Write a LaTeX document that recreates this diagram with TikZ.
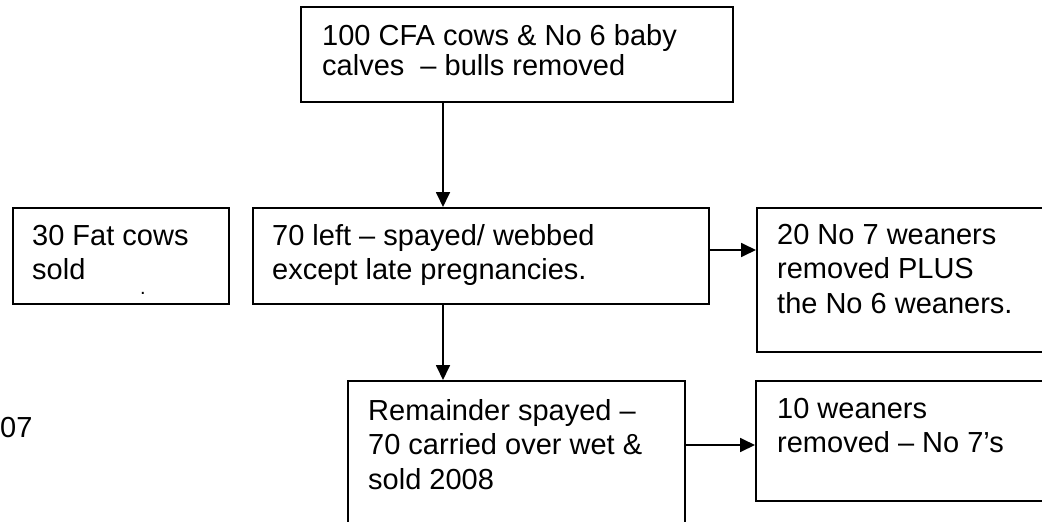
\documentclass[tikz,border=0pt]{standalone}
\usepackage{fontspec}
\setmainfont{Liberation Sans}
\usetikzlibrary{arrows.meta}
\begin{document}
\begin{tikzpicture}[x=1pt,y=-1pt,
  box/.style={draw, line width=1.8pt, inner sep=0pt, anchor=north west},
  txt/.style={anchor=north west, inner sep=0pt, align=left, font=\fontsize{29}{34.5}\selectfont},
  arr/.style={line width=1.8pt, -{Triangle[length=15pt,width=14pt]}}]
\clip (0,0) rectangle (1042,522);
% boxes
\node[box, minimum width=432pt, minimum height=95pt] (top) at (300,6) {};
\node[box, minimum width=216pt, minimum height=96pt] (fat) at (12,207) {};
\node[box, minimum width=456pt, minimum height=96pt] (left70) at (252,207) {};
\node[box, minimum width=320pt, minimum height=144pt] (r20) at (756,207) {};
\node[box, minimum width=337pt, minimum height=170pt] (rem) at (347,380) {};
\node[box, minimum width=320pt, minimum height=120pt] (w10) at (755,380) {};
% texts
\node[txt, font=\fontsize{29}{30}\selectfont] (ttop) at (322,21) {\rule{0pt}{24pt}100 CFA cows \& No 6 baby\\calves~ – bulls removed};
\node[txt] (tfat) at (32,221) {\rule{0pt}{24pt}30 Fat cows\\sold};
\node[font=\fontsize{20}{22}\selectfont, anchor=base, inner sep=0pt] (dot) at (143,294) {.};
\node[txt] (tleft) at (272,221) {\rule{0pt}{24pt}70 left – spayed/ webbed\\except late pregnancies.};
\node[txt] (tr20) at (777,220) {\rule{0pt}{24pt}20 No 7 weaners\\removed PLUS\\the No 6 weaners.};
\node[txt] (trem) at (368,396) {\rule{0pt}{24pt}Remainder spayed –\\70 carried over wet \&\\sold 2008};
\node[txt] (tw10) at (777,394) {\rule{0pt}{24pt}10 weaners\\removed – No 7’s};
\node[font=\fontsize{29}{34}\selectfont, anchor=base west, inner sep=0pt] (t07) at (0,437) {07};
% connectors
\coordinate (vx) at (443,0);
\coordinate (hy1) at (0,250);
\coordinate (hy2) at (0,445);
\draw[arr] (vx |- top.south) -- (vx |- left70.north);
\draw[arr] (vx |- left70.south) -- (vx |- rem.north);
\draw[arr] (left70.east |- hy1) -- (r20.west |- hy1);
\draw[arr] (rem.east |- hy2) -- (w10.west |- hy2);
\end{tikzpicture}
\end{document}
